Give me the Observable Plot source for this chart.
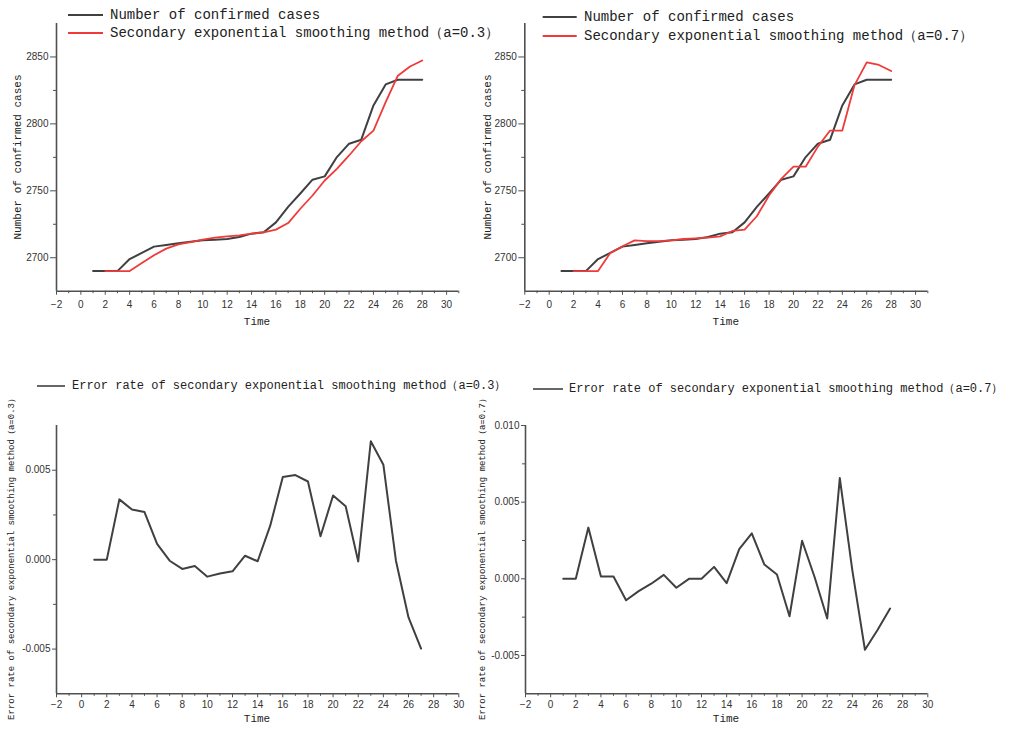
<!DOCTYPE html>
<html>
<head>
<meta charset="utf-8">
<script src="https://cdn.jsdelivr.net/npm/d3@7"></script>
<script src="https://cdn.jsdelivr.net/npm/@observablehq/plot@0.6"></script>
<style>
  body { margin: 0; background: #fff; }
  #wrap { position: relative; width: 1013px; height: 733px; overflow: hidden; background: #fff; }
  .panel { position: absolute; }
  #overlay { position: absolute; left: 0; top: 0; overflow: visible; pointer-events: none; }
</style>
</head>
<body>
<div id="wrap"></div>
<script>
// ---------- data ----------
const days = [1,2,3,4,5,6,7,8,9,10,11,12,13,14,15,16,17,18,19,20,21,22,23,24,25,26,27,28];
const confirmed = [2690,2690,2690,2699,2703.6,2708.3,2709.6,2710.8,2712,2713,2713.5,2714,2715.5,2718,2719,2726.4,2738,2748,2758.3,2760.8,2775.2,2785.2,2788.2,2813.8,2829.5,2833,2833,2833];

const smoothDays = [2,3,4,5,6,7,8,9,10,11,12,13,14,15,16,17,18,19,20,21,22,23,24,25,26,27,28];
const smooth03 = [2690,2690,2690,2696,2701.9,2706.8,2710,2711.7,2713.5,2715,2716,2716.7,2718,2719,2721,2725.9,2736.6,2746.5,2757.7,2766.4,2776.4,2787,2795,2816.2,2836,2842.9,2847.4];
const smooth07 = [2690,2690,2690,2703.6,2708.6,2713,2712.4,2712.4,2713,2714,2714.5,2715,2716,2720,2721,2731,2746.5,2759,2768,2768,2783,2795,2795,2829,2846,2844,2839.5];

const errDays = [1,2,3,4,5,6,7,8,9,10,11,12,13,14,15,16,17,18,19,20,21,22,23,24,25,26,27];
const err03 = [0,0,0.00337,0.0028,0.00266,0.00088,-0.00006,-0.00052,-0.00036,-0.00095,-0.00077,-0.00065,0.00022,-0.00009,0.0019,0.00462,0.00473,0.00437,0.00131,0.00359,0.00299,-0.0001,0.00662,0.00531,-0.00006,-0.00323,-0.00497];
const err07 = [0,0,0.00334,0.00015,0.00015,-0.0014,-0.0008,-0.00032,0.00026,-0.00058,0,0,0.00078,-0.00028,0.00194,0.00297,0.00093,0.00028,-0.00244,0.00248,0.0001,-0.00259,0.00657,0.00054,-0.00463,-0.00334,-0.00194];

const xMajorTicks = [-2,0,2,4,6,8,10,12,14,16,18,20,22,24,26,28,30];
const xMinorTicksTop = [-1,1,3,5,7,9,11,13,15,17,19,21,23,25,27,29,31];
const xMinorTicksBottom = [-1,1,3,5,7,9,11,13,15,17,19,21,23,25,27,29];
const casesMajorTicks = [2700,2750,2800,2850];
const casesMinorTicks = [2725,2775,2825];
const errMajorTicksL = [-0.005,0,0.005];
const errMinorTicksL = [-0.0025,0.0025];
const errMajorTicksR = [-0.005,0,0.005,0.010];
const errMinorTicksR = [-0.0025,0.0025,0.0075];

const labelConfirmed = "Number of confirmed cases";
const labelS03 = "Secondary exponential smoothing method（a=0.3）";
const labelS07 = "Secondary exponential smoothing method（a=0.7）";
const labelE03 = "Error rate of secondary exponential smoothing method（a=0.3）";
const labelE07 = "Error rate of secondary exponential smoothing method（a=0.7）";
const yTitleTop = "Number of confirmed cases";
const xTitle = "Time";

// ---------- style ----------
const BLACK = "#404040";
const RED = "#f03a3a";
const AXIS = "#505050";
const TICKFONT = "'Liberation Sans', Arial, sans-serif";
const MONO = "'Liberation Mono', 'DejaVu Sans Mono', monospace";

const wrap = document.getElementById("wrap");

function panel(o) {
  const rows = (xs, ys) => xs.map((d, i) => ({t: d, v: ys[i]}));
  const marks = [
    Plot.ruleX([o.xDomain[0]], {stroke: AXIS, strokeWidth: 1.6}),
    Plot.ruleY([o.yDomain[0]], {stroke: AXIS, strokeWidth: 1.6}),
    Plot.axisX(o.xMajor, {tickSize: 4, tickPadding: o.xPad, fontSize: 10, fontFamily: TICKFONT, stroke: AXIS, fill: "#333", label: null}),
    Plot.axisX(o.xMinor, {tickSize: 2.5, tickFormat: () => "", stroke: AXIS, label: null}),
    Plot.axisY(o.yMajor, {tickSize: o.yTick, tickPadding: 2, fontSize: 10, fontFamily: TICKFONT, stroke: AXIS, fill: "#333", tickFormat: o.yFmt, label: null}),
    Plot.axisY(o.yMinor, {tickSize: 3, tickFormat: () => "", stroke: AXIS, label: null}),
    ...o.series.map(s => Plot.line(rows(s.x, s.y), {x: "t", y: "v", stroke: s.color, strokeWidth: s.w}))
  ];
  const svg = Plot.plot({
    width: o.width, height: o.height,
    marginLeft: o.ml, marginRight: o.mr, marginTop: o.mt, marginBottom: o.mb,
    x: {domain: o.xDomain},
    y: {domain: o.yDomain},
    style: {background: "transparent", overflow: "visible"},
    marks
  });
  svg.classList.add("panel");
  svg.style.left = o.left + "px";
  svg.style.top = o.top + "px";
  wrap.appendChild(svg);
}

const fmtInt = d => String(d);
const fmt3 = d => d.toFixed(3);

panel({left: 0, top: 0, width: 470, height: 335, ml: 56, mr: 11.7, mt: 23, mb: 44.3,
  xDomain: [-2, 31], yDomain: [2675, 2875], xMajor: xMajorTicks, xMinor: xMinorTicksTop,
  yMajor: casesMajorTicks, yMinor: casesMinorTicks, yFmt: fmtInt, yTick: 6, xPad: 6,
  series: [{x: days, y: confirmed, color: BLACK, w: 2}, {x: smoothDays, y: smooth03, color: RED, w: 1.8}]});

panel({left: 470, top: 0, width: 470, height: 335, ml: 54.3, mr: 12.7, mt: 23, mb: 44.3,
  xDomain: [-2, 31], yDomain: [2675, 2875], xMajor: xMajorTicks, xMinor: xMinorTicksTop,
  yMajor: casesMajorTicks, yMinor: casesMinorTicks, yFmt: fmtInt, yTick: 6, xPad: 6,
  series: [{x: days, y: confirmed, color: BLACK, w: 2}, {x: smoothDays, y: smooth07, color: RED, w: 1.8}]});

panel({left: 0, top: 370, width: 470, height: 363, ml: 56, mr: 11.7, mt: 55, mb: 39.7,
  xDomain: [-2, 30], yDomain: [-0.0075, 0.0075], xMajor: xMajorTicks, xMinor: xMinorTicksBottom,
  yMajor: errMajorTicksL, yMinor: errMinorTicksL, yFmt: fmt3, yTick: 4, xPad: 3,
  series: [{x: errDays, y: err03, color: BLACK, w: 2}]});

panel({left: 470, top: 370, width: 470, height: 363, ml: 55, mr: 12.7, mt: 55, mb: 39.7,
  xDomain: [-2, 30], yDomain: [-0.0075, 0.010], xMajor: xMajorTicks, xMinor: xMinorTicksBottom,
  yMajor: errMajorTicksR, yMinor: errMinorTicksR, yFmt: fmt3, yTick: 4, xPad: 3,
  series: [{x: errDays, y: err07, color: BLACK, w: 2}]});

// ---------- legends & axis titles (text overlay) ----------
const ov = d3.select(wrap).append("svg").attr("id", "overlay").attr("width", 1013).attr("height", 733);

function legendRow(x1, x2, y, tx, color, w, text, size) {
  ov.append("line").attr("x1", x1).attr("x2", x2).attr("y1", y).attr("y2", y)
    .attr("stroke", color).attr("stroke-width", w);
  ov.append("text").attr("x", tx).attr("y", y).attr("dominant-baseline", "central")
    .attr("font-family", MONO).attr("font-size", size).attr("fill", "#222").text(text);
}
legendRow(68, 103, 15, 110, BLACK, 2, labelConfirmed, 14);
legendRow(68, 103, 33, 110, RED, 2, labelS03, 14);
legendRow(542.7, 576.7, 17, 584, BLACK, 2, labelConfirmed, 14);
legendRow(542.7, 576.7, 36, 584, RED, 2, labelS07, 14);
legendRow(37, 65, 386, 72, BLACK, 1.6, labelE03, 12);
legendRow(533, 563, 389, 569, BLACK, 1.6, labelE07, 12);

function title(x, y, text, size, rotate) {
  const t = ov.append("text").attr("x", x).attr("y", y).attr("text-anchor", "middle")
    .attr("dominant-baseline", "central").attr("font-family", MONO).attr("font-size", size)
    .attr("fill", "#222").text(text);
  if (rotate) t.attr("transform", `rotate(-90 ${x} ${y})`);
}
title(18, 157, yTitleTop, 11, true);
title(487.5, 157, yTitleTop, 11, true);
title(257, 322, xTitle, 11, false);
title(725.8, 322, xTitle, 11, false);
title(12, 557, labelE03, 9, true);
title(483, 557, labelE07, 9, true);
title(257, 719, xTitle, 11, false);
title(726, 719, xTitle, 11, false);
</script>
</body>
</html>
